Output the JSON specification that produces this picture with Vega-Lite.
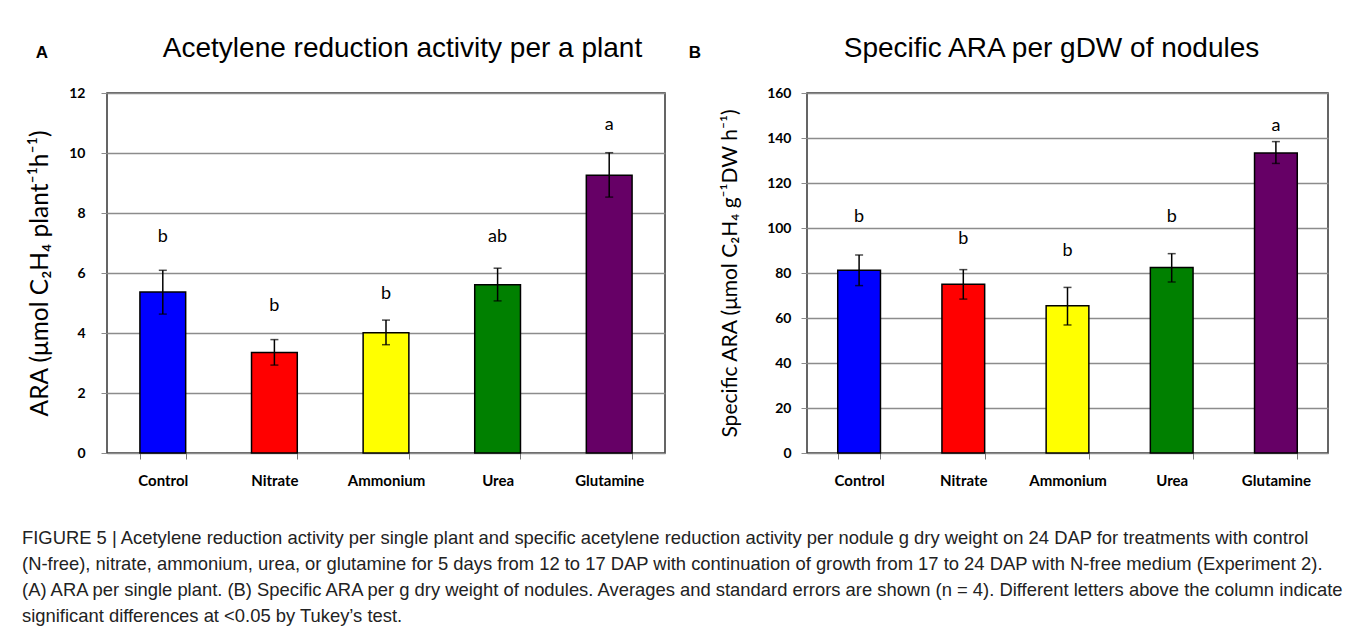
{
  "$schema": "https://vega.github.io/schema/vega-lite/v6.json",
  "background": "white",
  "padding": {"left": 22, "top": 33, "right": 0, "bottom": 0},
  "datasets": {
    "a": [
      {"treatment": "Control", "value": 5.37, "lo": 4.63, "hi": 6.09, "letter": "b", "letterPos": 7.19},
      {"treatment": "Nitrate", "value": 3.35, "lo": 2.93, "hi": 3.78, "letter": "b", "letterPos": 4.89},
      {"treatment": "Ammonium", "value": 4.01, "lo": 3.61, "hi": 4.43, "letter": "b", "letterPos": 5.29},
      {"treatment": "Urea", "value": 5.61, "lo": 5.07, "hi": 6.16, "letter": "ab", "letterPos": 7.19},
      {"treatment": "Glutamine", "value": 9.26, "lo": 8.53, "hi": 10.01, "letter": "a", "letterPos": 10.92}
    ],
    "b": [
      {"treatment": "Control", "value": 81.2, "lo": 74.4, "hi": 88.0, "letter": "b", "letterPos": 105},
      {"treatment": "Nitrate", "value": 75.0, "lo": 68.4, "hi": 81.5, "letter": "b", "letterPos": 95.1},
      {"treatment": "Ammonium", "value": 65.5, "lo": 56.9, "hi": 73.6, "letter": "b", "letterPos": 90.0},
      {"treatment": "Urea", "value": 82.4, "lo": 76.0, "hi": 88.6, "letter": "b", "letterPos": 105},
      {"treatment": "Glutamine", "value": 133.3, "lo": 128.7, "hi": 138.4, "letter": "a", "letterPos": 145.5}
    ]
  },
  "title": {
    "text": [
      "FIGURE 5 | Acetylene reduction activity per single plant and specific acetylene reduction activity per nodule g dry weight on 24 DAP for treatments with control",
      "(N-free), nitrate, ammonium, urea, or glutamine for 5 days from 12 to 17 DAP with continuation of growth from 17 to 24 DAP with N-free medium (Experiment 2).",
      "(A) ARA per single plant. (B) Specific ARA per g dry weight of nodules. Averages and standard errors are shown (n = 4). Different letters above the column indicate",
      "significant differences at <0.05 by Tukey’s test."
    ],
    "orient": "bottom",
    "anchor": "start",
    "frame": "bounds",
    "font": "Liberation Sans",
    "fontSize": 18.4,
    "fontWeight": "normal",
    "lineHeight": 26,
    "offset": 40,
    "dx": -5,
    "color": "#222222"
  },
  "spacing": 21,
  "hconcat": [
    {
      "width": 558,
      "height": 360,
      "data": {"name": "a"},
      "title": {"text": "A", "anchor": "start", "frame": "bounds", "font": "Liberation Sans", "fontSize": 17, "fontWeight": "bold", "color": "black", "dx": 8, "dy": 32},
      "layer": [
        {
          "mark": {"type": "bar", "stroke": "black", "strokeWidth": 1.5},
          "encoding": {
            "x": {"field": "treatment", "type": "nominal", "sort": ["Control", "Nitrate", "Ammonium", "Urea", "Glutamine"], "scale": {"paddingInner": 0.59, "paddingOuter": 0.295},
              "axis": {"title": null, "labelAngle": 0, "labelFont": "Lato", "labelFontWeight": "bold", "labelFontSize": 15, "labelColor": "black", "labelPadding": 14, "tickBand": "extent", "tickSize": 6, "tickColor": "#777777", "domain": false}},
            "y": {"field": "value", "type": "quantitative", "title": "ARA (μmol C₂H₄ plant⁻¹h⁻¹)", "scale": {"domain": [0, 12], "nice": false},
              "axis": {"values": [0, 2, 4, 6, 8, 10, 12], "labelPadding": 16, "titlePadding": 16, "titleFontSize": 24.5}},
            "color": {"field": "treatment", "type": "nominal", "scale": {"domain": ["Control", "Nitrate", "Ammonium", "Urea", "Glutamine"], "range": ["#0000ff", "#ff0000", "#ffff00", "#008000", "#660066"]}, "legend": null}
          }
        },
        {
          "mark": {"type": "rule", "color": "black", "strokeWidth": 1.5},
          "encoding": {
            "x": {"field": "treatment", "type": "nominal", "sort": ["Control", "Nitrate", "Ammonium", "Urea", "Glutamine"], "axis": null},
            "y": {"field": "lo", "type": "quantitative", "title": "ARA (μmol C₂H₄ plant⁻¹h⁻¹)"},
            "y2": {"field": "hi"}
          }
        },
        {
          "mark": {"type": "tick", "color": "black", "thickness": 1.5, "size": 8},
          "encoding": {
            "x": {"field": "treatment", "type": "nominal", "sort": ["Control", "Nitrate", "Ammonium", "Urea", "Glutamine"], "axis": null},
            "y": {"field": "lo", "type": "quantitative", "title": "ARA (μmol C₂H₄ plant⁻¹h⁻¹)"}
          }
        },
        {
          "mark": {"type": "tick", "color": "black", "thickness": 1.5, "size": 8},
          "encoding": {
            "x": {"field": "treatment", "type": "nominal", "sort": ["Control", "Nitrate", "Ammonium", "Urea", "Glutamine"], "axis": null},
            "y": {"field": "hi", "type": "quantitative", "title": "ARA (μmol C₂H₄ plant⁻¹h⁻¹)"}
          }
        },
        {
          "mark": {"type": "text", "font": "Lato", "fontSize": 18, "color": "black"},
          "encoding": {
            "x": {"field": "treatment", "type": "nominal", "sort": ["Control", "Nitrate", "Ammonium", "Urea", "Glutamine"],
              "axis": {"orient": "top", "labels": false, "ticks": false, "domain": false, "title": "Acetylene reduction activity per a plant", "titleFont": "Liberation Sans", "titleFontSize": 28, "titleFontWeight": "normal", "titleColor": "black", "titlePadding": 31, "titleX": 295}},
            "y": {"field": "letterPos", "type": "quantitative", "title": "ARA (μmol C₂H₄ plant⁻¹h⁻¹)"},
            "text": {"field": "letter"}
          }
        }
      ],
      "resolve": {"axis": {"x": "independent"}}
    },
    {
      "width": 521,
      "height": 360,
      "data": {"name": "b"},
      "title": {"text": "B", "anchor": "start", "frame": "bounds", "font": "Liberation Sans", "fontSize": 17, "fontWeight": "bold", "color": "black", "dx": -31, "dy": 32},
      "layer": [
        {
          "mark": {"type": "bar", "stroke": "black", "strokeWidth": 1.5},
          "encoding": {
            "x": {"field": "treatment", "type": "nominal", "sort": ["Control", "Nitrate", "Ammonium", "Urea", "Glutamine"], "scale": {"paddingInner": 0.59, "paddingOuter": 0.295},
              "axis": {"title": null, "labelAngle": 0, "labelFont": "Lato", "labelFontWeight": "bold", "labelFontSize": 15, "labelColor": "black", "labelPadding": 14, "tickBand": "extent", "tickSize": 6, "tickColor": "#777777", "domain": false}},
            "y": {"field": "value", "type": "quantitative", "title": "Specific ARA (μmol C₂H₄ g⁻¹DW h⁻¹)", "scale": {"domain": [0, 160], "nice": false},
              "axis": {"values": [0, 20, 40, 60, 80, 100, 120, 140, 160], "labelPadding": 10, "titlePadding": 26, "titleFontSize": 21}},
            "color": {"field": "treatment", "type": "nominal", "scale": {"domain": ["Control", "Nitrate", "Ammonium", "Urea", "Glutamine"], "range": ["#0000ff", "#ff0000", "#ffff00", "#008000", "#660066"]}, "legend": null}
          }
        },
        {
          "mark": {"type": "rule", "color": "black", "strokeWidth": 1.5},
          "encoding": {
            "x": {"field": "treatment", "type": "nominal", "sort": ["Control", "Nitrate", "Ammonium", "Urea", "Glutamine"], "axis": null},
            "y": {"field": "lo", "type": "quantitative", "title": "Specific ARA (μmol C₂H₄ g⁻¹DW h⁻¹)"},
            "y2": {"field": "hi"}
          }
        },
        {
          "mark": {"type": "tick", "color": "black", "thickness": 1.5, "size": 8},
          "encoding": {
            "x": {"field": "treatment", "type": "nominal", "sort": ["Control", "Nitrate", "Ammonium", "Urea", "Glutamine"], "axis": null},
            "y": {"field": "lo", "type": "quantitative", "title": "Specific ARA (μmol C₂H₄ g⁻¹DW h⁻¹)"}
          }
        },
        {
          "mark": {"type": "tick", "color": "black", "thickness": 1.5, "size": 8},
          "encoding": {
            "x": {"field": "treatment", "type": "nominal", "sort": ["Control", "Nitrate", "Ammonium", "Urea", "Glutamine"], "axis": null},
            "y": {"field": "hi", "type": "quantitative", "title": "Specific ARA (μmol C₂H₄ g⁻¹DW h⁻¹)"}
          }
        },
        {
          "mark": {"type": "text", "font": "Lato", "fontSize": 18, "color": "black"},
          "encoding": {
            "x": {"field": "treatment", "type": "nominal", "sort": ["Control", "Nitrate", "Ammonium", "Urea", "Glutamine"],
              "axis": {"orient": "top", "labels": false, "ticks": false, "domain": false, "title": "Specific ARA per gDW of nodules", "titleFont": "Liberation Sans", "titleFontSize": 28, "titleFontWeight": "normal", "titleColor": "black", "titlePadding": 31, "titleX": 244}},
            "y": {"field": "letterPos", "type": "quantitative", "title": "Specific ARA (μmol C₂H₄ g⁻¹DW h⁻¹)"},
            "text": {"field": "letter"}
          }
        }
      ],
      "resolve": {"axis": {"x": "independent"}}
    }
  ],
  "config": {
    "view": {"stroke": "#333333", "strokeWidth": 1.5},
    "axisY": {"grid": true, "gridColor": "#8c8c8c", "gridWidth": 1.5, "domain": false, "tickColor": "#8c8c8c", "tickSize": 6, "labelFont": "Lato", "labelFontWeight": "bold", "labelFontSize": 14, "labelColor": "black", "titleFont": "Lato", "titleFontSize": 20, "titleFontWeight": "normal", "titleColor": "black"},
    "axisX": {"grid": false}
  }
}
